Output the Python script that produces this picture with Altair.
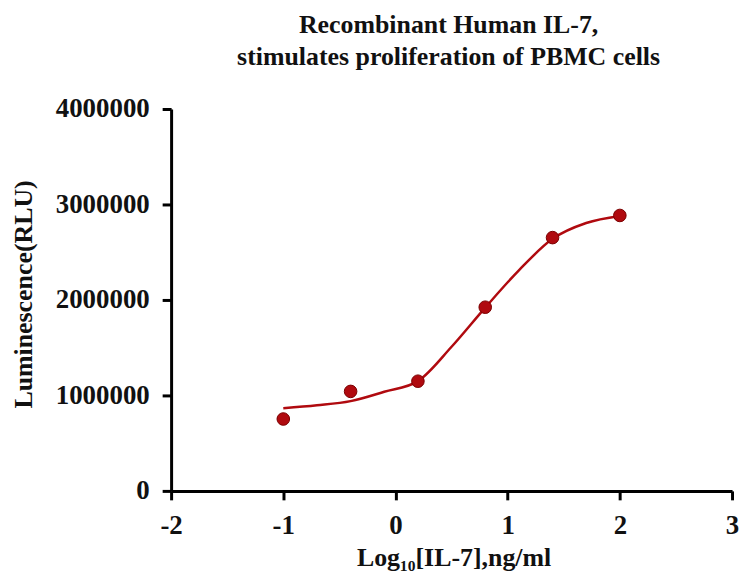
import altair as alt
import pandas as pd

# Data points (log10 concentration, luminescence)
pt_x = [-1.0, -0.4, 0.2, 0.8, 1.4, 2.0]
pt_y = [753000, 1042000, 1149000, 1924000, 2653000, 2885000]

# Fitted curve
fit_x = [-1.0, -0.7, -0.4, -0.1, 0.2, 0.5, 0.8, 1.1, 1.4, 1.7, 2.0]
fit_y = [865000, 896000, 940000, 1038000, 1150000, 1510000, 1920000, 2310000, 2640000, 2806000, 2880000]

x_ticks = [-2, -1, 0, 1, 2, 3]
y_ticks = [0, 1000000, 2000000, 3000000, 4000000]

title_lines = ["Recombinant Human IL-7,", "stimulates proliferation of PBMC cells"]
x_title = "Log\u2081\u2080[IL-7],ng/ml"
y_title = "Luminescence(RLU)"

RED = "#B00A0F"
FONT = "Liberation Serif"

pts = pd.DataFrame({"x": pt_x, "y": pt_y})
fit = pd.DataFrame({"x": fit_x, "y": fit_y})

x_scale = alt.Scale(domain=[-2, 3], nice=False, zero=False)
y_scale = alt.Scale(domain=[0, 4000000], nice=False)

x_axis = alt.Axis(
    values=x_ticks, labelExpr="'' + datum.value", title=x_title, grid=False,
    domainColor="black", domainWidth=3, tickColor="black", tickWidth=3, tickSize=9,
    labelFont=FONT, labelFontWeight="bold", labelFontSize=27, labelColor="#111",
    labelPadding=13, labelFlush=False,
    titleFont=FONT, titleFontWeight="bold", titleFontSize=26, titleColor="#111",
    titleX=284, titleY=75, titleBaseline="alphabetic", titleAlign="center",
)
y_axis = alt.Axis(
    values=y_ticks, format="d", title=y_title, grid=False,
    domainColor="black", domainWidth=3, tickColor="black", tickWidth=3, tickSize=9,
    labelFont=FONT, labelFontWeight="bold", labelFontSize=27, labelColor="#111",
    labelPadding=13,
    titleFont=FONT, titleFontWeight="bold", titleFontSize=26, titleColor="#111",
    titleX=-148, titleY=186, titleAngle=270, titleAlign="center", titleBaseline="middle",
)

line = alt.Chart(fit).mark_line(color=RED, strokeWidth=2.5, interpolate="monotone").encode(
    x=alt.X("x:Q", scale=x_scale, axis=x_axis),
    y=alt.Y("y:Q", scale=y_scale, axis=y_axis),
)
points = alt.Chart(pts).mark_circle(color=RED, size=160, opacity=1, stroke="#7a0000", strokeWidth=1).encode(
    x=alt.X("x:Q", scale=x_scale),
    y=alt.Y("y:Q", scale=y_scale),
)

chart = alt.layer(line, points).properties(
    width=564,
    height=384,
    title=alt.Title(
        text=title_lines, anchor="middle", font=FONT, fontWeight="bold",
        fontSize=26, lineHeight=32, color="#111", offset=25, dx=-3,
    ),
    autosize=alt.AutoSizeParams(type="none"),
    padding={"left": 164, "top": 100, "right": 7, "bottom": 80},
).configure_view(stroke=None)

chart.save("out.html", embed_options={"renderer": "svg", "actions": False})
